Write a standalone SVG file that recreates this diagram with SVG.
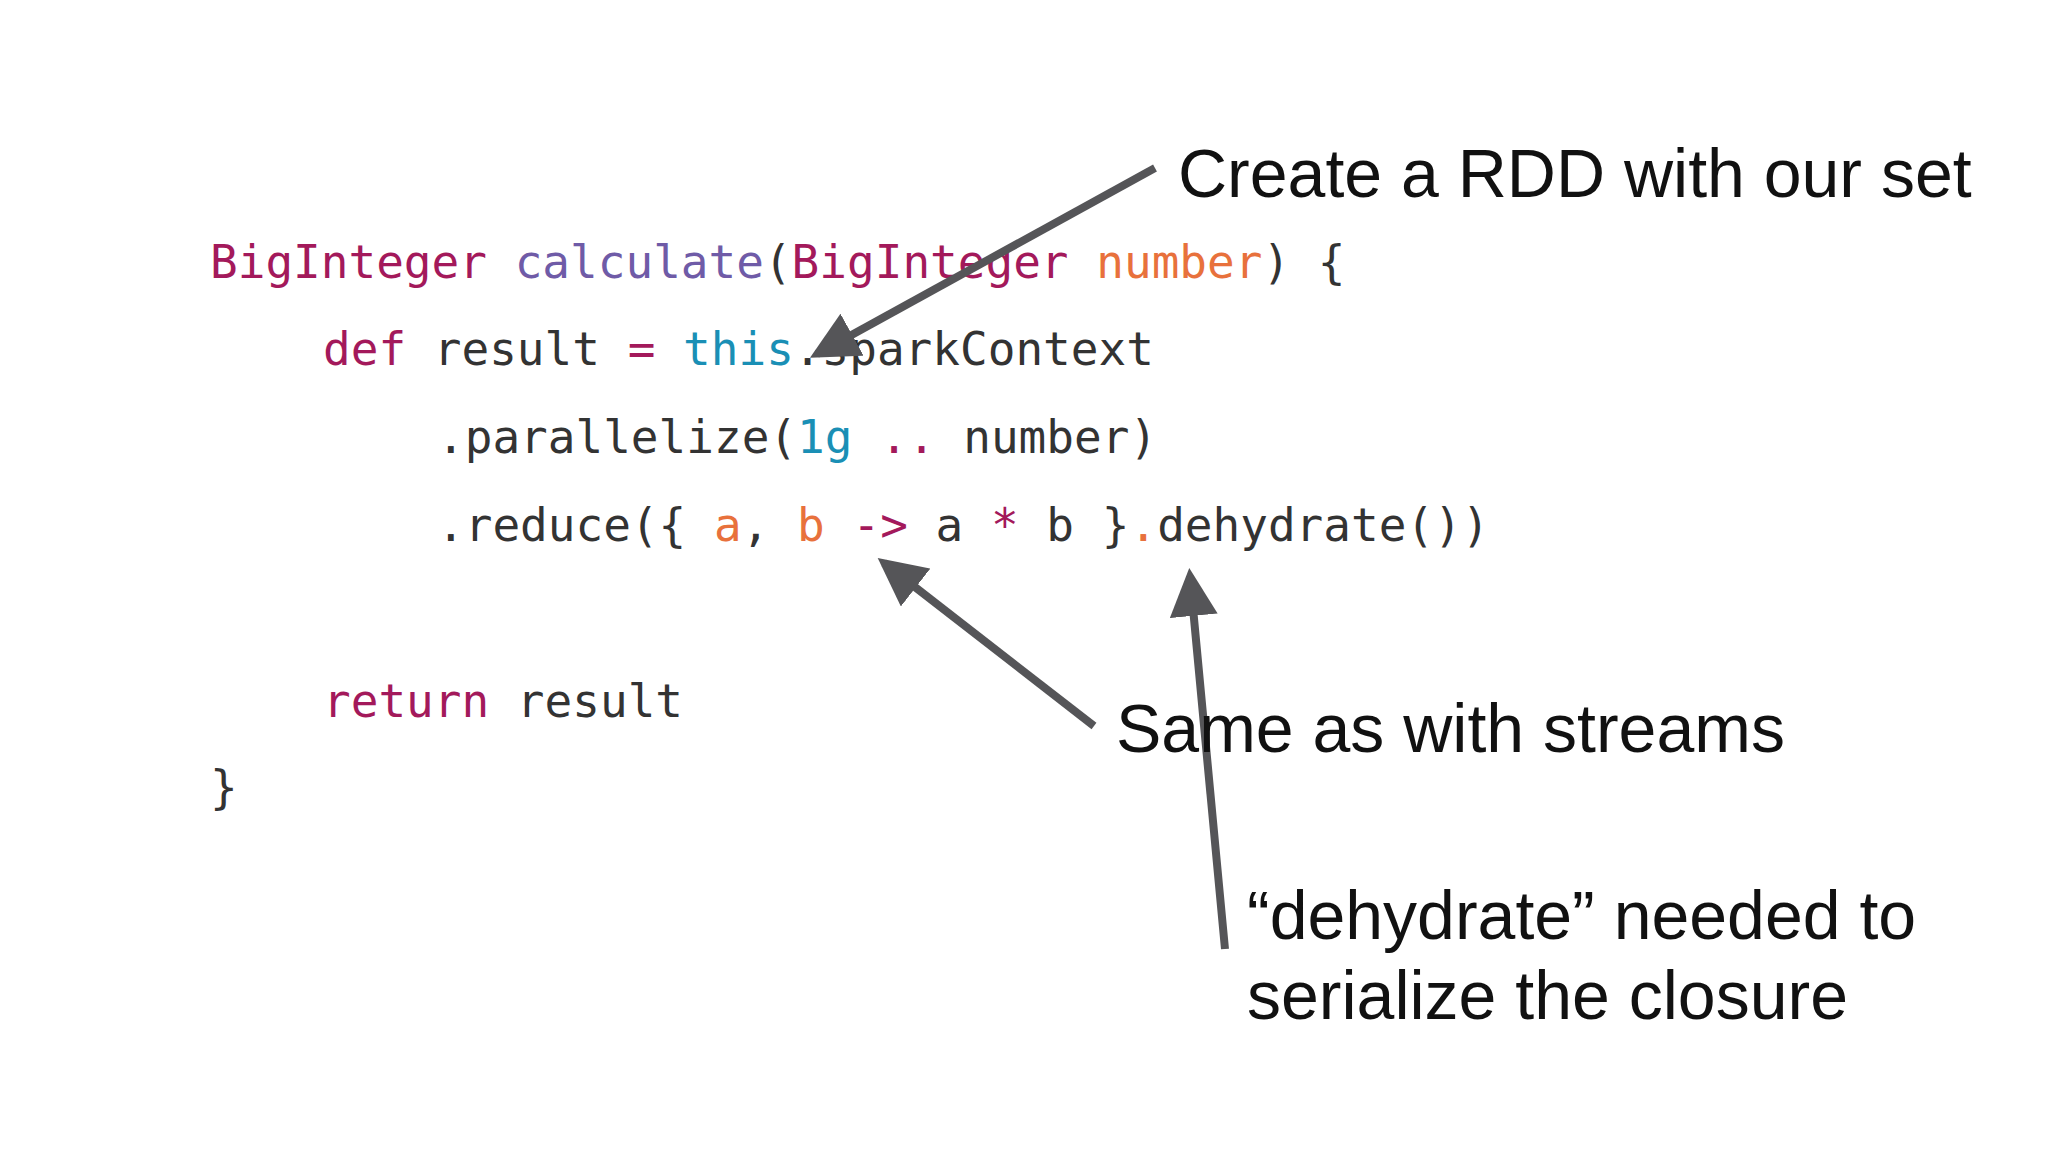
<svg xmlns="http://www.w3.org/2000/svg" width="2048" height="1152" viewBox="0 0 2048 1152">
<style>
.code{font-family:"DejaVu Sans Mono","Liberation Mono",monospace;font-size:46px;fill:#333333;white-space:pre}
.k{fill:#a3195b}.f{fill:#6f5ba7}.o{fill:#e8713c}.t{fill:#1a8fb5}
.lbl{font-family:"Liberation Sans",Arial,sans-serif;font-size:68px;fill:#111111}
.arr{stroke:#555558;stroke-width:8;fill:none;marker-end:url(#ah)}
</style>
<defs>
<marker id="ah" markerWidth="6" markerHeight="6" refX="5" refY="3" orient="auto" markerUnits="strokeWidth">
<path d="M0,0 L6,3 L0,6 Z" fill="#555558"/>
</marker>
</defs>
<rect width="2048" height="1152" fill="#ffffff"/>
<g id="code" xml:space="preserve">
<text class="code" x="210" y="278"><tspan class="k">BigInteger</tspan> <tspan class="f">calculate</tspan>(<tspan class="k">BigInteger</tspan> <tspan class="o">number</tspan>) {</text>
<text class="code" x="323" y="365"><tspan class="k">def</tspan> result <tspan class="k">=</tspan> <tspan class="t">this</tspan>.sparkContext</text>
<text class="code" x="437" y="453">.parallelize(<tspan class="t">1g</tspan> <tspan class="k">..</tspan> number)</text>
<text class="code" x="437" y="541">.reduce({ <tspan class="o">a</tspan>, <tspan class="o">b</tspan> <tspan class="k">-&gt;</tspan> a <tspan class="k">*</tspan> b }<tspan class="o">.</tspan>dehydrate())</text>
<text class="code" x="323" y="717"><tspan class="k">return</tspan> result</text>
<text class="code" x="210" y="803">}</text>
</g>
<g id="connectors">
<line class="arr" x1="1155" y1="168" x2="817" y2="354"/>
<line class="arr" x1="1094" y1="726" x2="884" y2="563"/>
<line class="arr" x1="1225" y1="949" x2="1190" y2="576"/>
</g>
<g id="label1"><text class="lbl" x="1178" y="197">Create a RDD with our set</text></g>
<g id="label2"><text class="lbl" x="1116" y="752">Same as with streams</text></g>
<g id="label3"><text class="lbl" x="1247" y="939">“dehydrate” needed to</text><text class="lbl" x="1247" y="1019">serialize the closure</text></g>
</svg>
